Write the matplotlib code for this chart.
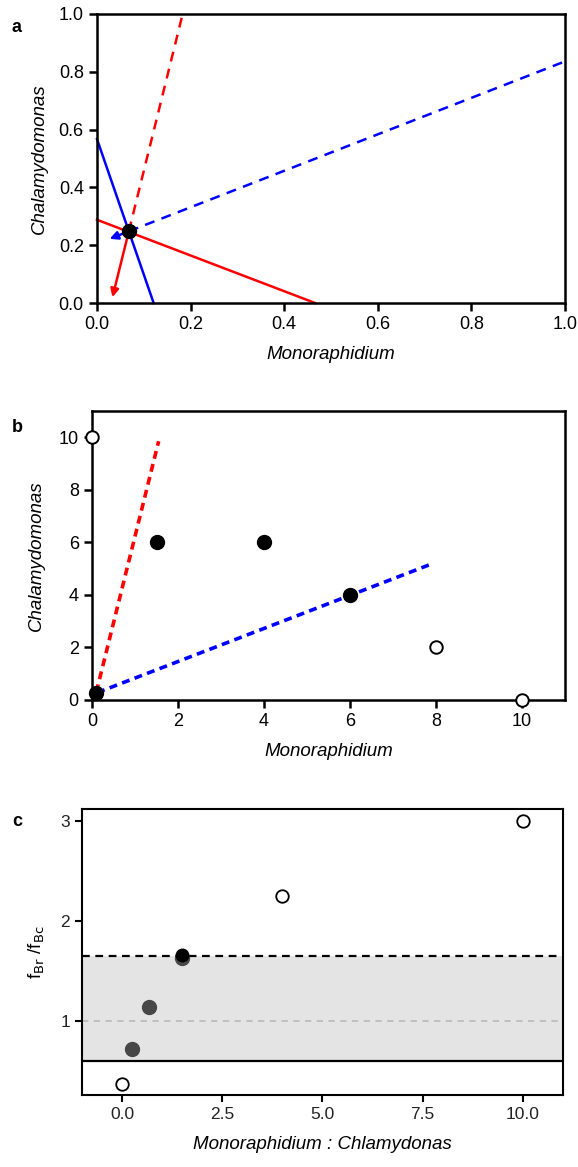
import numpy as np
import matplotlib
import matplotlib.pyplot as plt

matplotlib.rcParams['font.family'] = ['Liberation Sans', 'DejaVu Sans']

# panel a: isoclines, equilibrium and directions
eq_a = (0.068, 0.248)
blue_iso_x = [0.0, 0.121]
blue_iso_y = [0.567, 0.0]
red_iso_x = [0.0, 0.466]
red_iso_y = [0.288, 0.0]
red_dash_end = (0.183, 1.0)
blue_dash_end = (1.0, 0.836)
blue_arrow_tip = (0.027, 0.222)
red_arrow_tip = (0.033, 0.02)

# panel b: starting densities
b_open_x = [0, 8, 10]
b_open_y = [10, 2, 0]
b_fill_x = [0.1, 1.5, 4, 6]
b_fill_y = [0.25, 6, 6, 4]
b_red_x = [0.1, 1.55]
b_red_y = [0.3, 9.85]
b_blue_x = [0.12, 7.9]
b_blue_y = [0.28, 5.18]

# panel c: ratio vs f ratio
c_open_x = [0, 4, 10]
c_open_y = [0.37, 2.25, 3.0]
c_grey_x = [0.25, 0.67, 1.5]
c_grey_y = [0.72, 1.14, 1.63]
c_black_x = [1.5]
c_black_y = [1.66]
c_low, c_high, c_one = 0.6, 1.65, 1.0

W, H = 578, 1167
fig = plt.figure(figsize=(W / 100, H / 100), dpi=100)


def box(l, t, r, b):
    return [l / W, 1 - b / H, (r - l) / W, (b - t) / H]


def style(ax, lw=1.8):
    for s in ax.spines.values():
        s.set_linewidth(lw)
    ax.tick_params(direction='out', length=6, width=lw, labelsize=13,
                   top=False, right=False)


# ---- a ----
ax = fig.add_axes(box(97, 14, 565, 303))
style(ax)
ax.plot(blue_iso_x, blue_iso_y, color='blue', lw=1.8, clip_on=False)
ax.plot(red_iso_x, red_iso_y, color='red', lw=1.8, clip_on=False)
ax.plot([eq_a[0], red_dash_end[0]], [eq_a[1], red_dash_end[1]], color='red',
        lw=1.8, ls=(0, (4, 3)))
ax.plot([eq_a[0], blue_dash_end[0]], [eq_a[1], blue_dash_end[1]], color='blue',
        lw=1.8, ls=(0, (4, 3)))
ax.annotate('', xy=blue_arrow_tip, xytext=eq_a,
            arrowprops=dict(arrowstyle='-|>', color='blue', lw=1.8,
                            mutation_scale=12, shrinkA=0, shrinkB=0))
ax.annotate('', xy=red_arrow_tip, xytext=eq_a,
            arrowprops=dict(arrowstyle='-|>', color='red', lw=1.8,
                            mutation_scale=12, shrinkA=0, shrinkB=0))
ax.plot(*eq_a, 'o', color='black', ms=10, zorder=5)
ax.set_xlim(0, 1)
ax.set_ylim(0, 1)
ax.set_xticks(np.arange(0, 1.01, 0.2))
ax.set_yticks(np.arange(0, 1.01, 0.2))
ax.xaxis.set_major_formatter(matplotlib.ticker.FormatStrFormatter('%.1f'))
ax.yaxis.set_major_formatter(matplotlib.ticker.FormatStrFormatter('%.1f'))
ax.set_xlabel('Monoraphidium', style='italic', fontsize=13.5, labelpad=9)
ax.set_ylabel('Chalamydomonas', style='italic', fontsize=13.5, labelpad=8)
fig.text(12 / W, 1 - 27 / H, 'a', fontsize=13, fontweight='bold', va='center')

# ---- b ----
ax = fig.add_axes(box(92, 411, 565, 700))
style(ax)
ax.plot(b_red_x, b_red_y, color='red', lw=2.6, ls=(0, (2.2, 1.5)))
ax.plot(b_blue_x, b_blue_y, color='blue', lw=2.6, ls=(0, (2.2, 1.5)))
ax.plot(b_open_x, b_open_y, 'o', mfc='white', mec='black', mew=1.4, ms=9,
        ls='none', clip_on=False, zorder=4)
ax.plot(b_fill_x, b_fill_y, 'o', color='black', ms=10, ls='none',
        clip_on=False, zorder=4)
ax.set_xlim(0, 11)
ax.set_ylim(0, 11)
ax.set_xticks(np.arange(0, 11, 2))
ax.set_yticks(np.arange(0, 11, 2))
ax.set_xlabel('Monoraphidium', style='italic', fontsize=13.5, labelpad=9)
ax.set_ylabel('Chalamydomonas', style='italic', fontsize=13.5, labelpad=10)
fig.text(12 / W, 1 - 427 / H, 'b', fontsize=13, fontweight='bold', va='center')

# ---- c ----
ax = fig.add_axes(box(82, 809, 563, 1095))
style(ax, lw=1.5)
ax.tick_params(labelsize=12.5, length=5, labelcolor='#222222')
ax.axhspan(c_low, c_high, color='#e4e4e4', lw=0, zorder=0)
ax.axhline(c_low, color='black', lw=1.6)
ax.axhline(c_high, color='black', lw=1.6, ls=(0, (3.5, 2.5)))
ax.axhline(c_one, color='#bdbdbd', lw=1.3, ls=(0, (3.5, 3)))
ax.plot(c_open_x, c_open_y, 'o', mfc='white', mec='black', mew=1.3, ms=9,
        ls='none', zorder=4)
ax.plot(c_grey_x, c_grey_y, 'o', color='#474747', ms=10, ls='none', zorder=4)
ax.plot(c_black_x, c_black_y, 'o', color='black', ms=9, ls='none', zorder=5)
ax.set_xlim(-1, 11)
ax.set_ylim(0.26, 3.12)
ax.set_xticks([0, 2.5, 5, 7.5, 10])
ax.set_xticklabels(['0.0', '2.5', '5.0', '7.5', '10.0'])
ax.set_yticks([1, 2, 3])
ax.set_xlabel('Monoraphidium : Chlamydonas', style='italic', fontsize=13.5,
              labelpad=10)
ax.set_ylabel(r'f$_{\mathrm{Br}}$ /f$_{\mathrm{Bc}}$', fontsize=13.5,
              labelpad=10)
fig.text(12 / W, 1 - 822 / H, 'c', fontsize=13, fontweight='bold', va='center')

fig.savefig('out.png', dpi=100)
